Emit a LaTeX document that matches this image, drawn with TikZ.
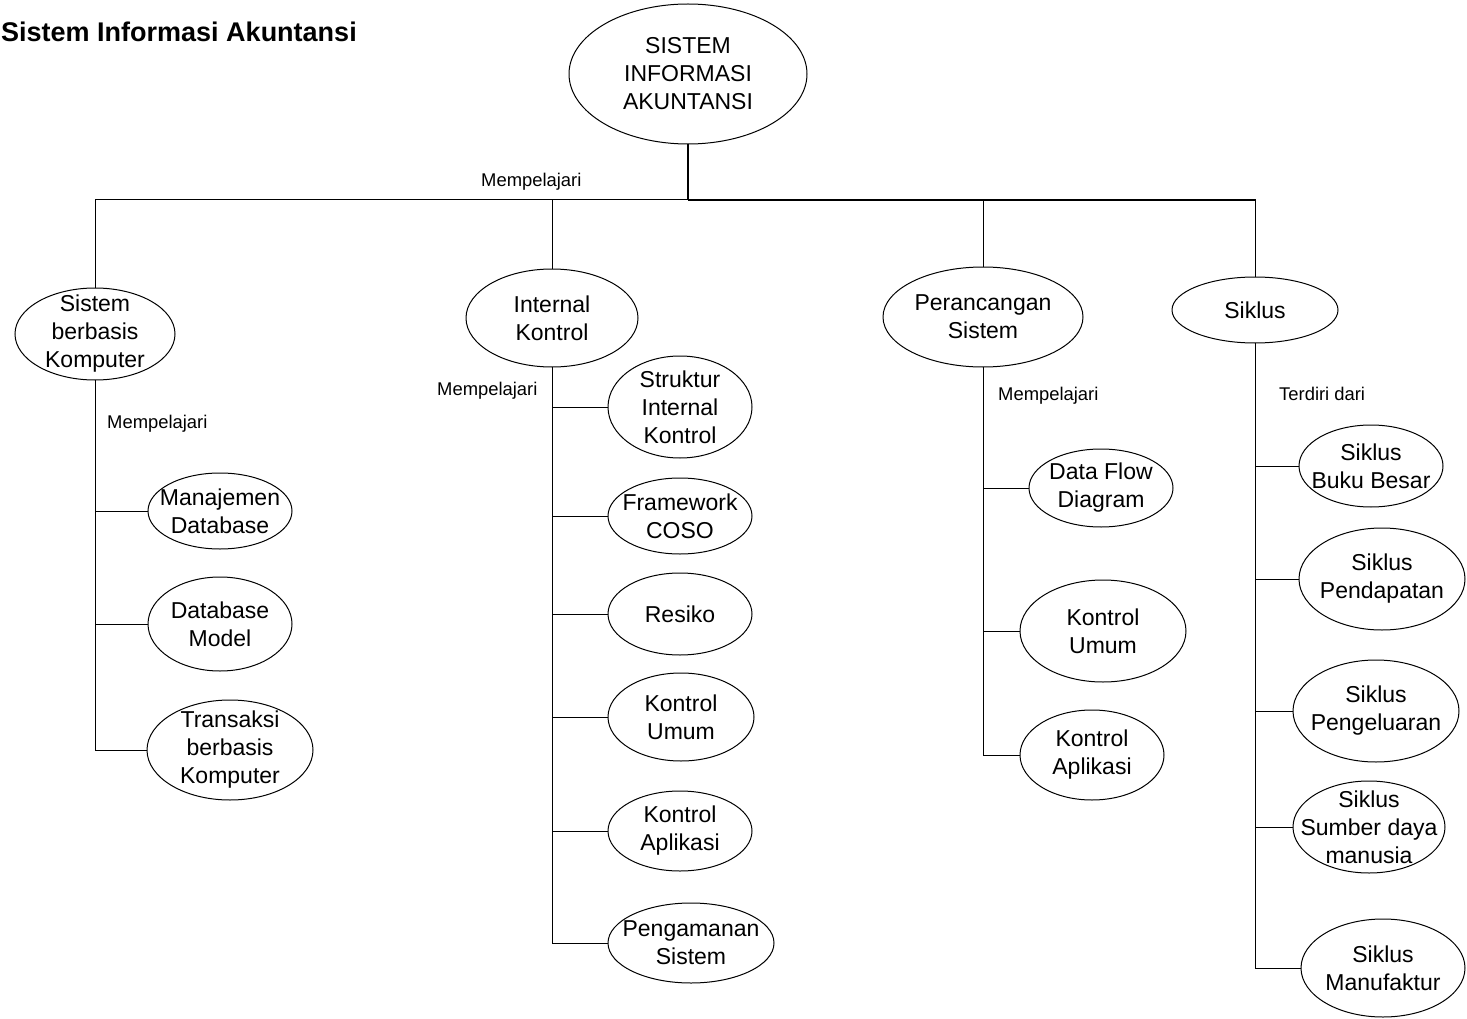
\documentclass[tikz,border=0pt]{standalone}
\usepackage{fontspec}
\setmainfont{Liberation Sans}
\usetikzlibrary{shapes.geometric}
\newcommand{\myell}[6]{%
  \node[ellbox, minimum width={2*#4}, minimum height={2*#5}] (#1) at (#2,#3) {};
  \node[elltext] (#1-t) at (#1.center) {#6};}
\begin{document}
\begin{tikzpicture}[x=1pt,y=-1pt,
  ellbox/.style={draw, ellipse, inner sep=0pt, outer sep=0pt, line width=1pt},
  elltext/.style={align=center, font=\fontsize{23}{28}\selectfont, inner sep=0pt},
  lbl/.style={font=\fontsize{18.4}{22}\selectfont, inner sep=0pt},
  conn/.style={line width=1pt},
  mainconn/.style={line width=2pt}]
\path[use as bounding box, fill=white] (0,0) rectangle (1467,1019);

% title
\node[font=\bfseries\fontsize{27}{32}\selectfont, anchor=base west, inner sep=0pt] (title) at (1,42) {Sistem Informasi Akuntansi};

% root
\myell{sia}{688}{74}{119}{70}{SISTEM\\INFORMASI\\AKUNTANSI}

% level 1
\myell{sbk}{95}{334}{80}{46}{Sistem\\berbasis\\Komputer}
\myell{ik}{552}{318}{86}{49}{Internal\\Kontrol}
\myell{ps}{983}{317}{100}{50}{Perancangan\\Sistem}
\myell{sik}{1255}{310}{83}{33}{Siklus}

% children of sbk
\myell{md}{220}{511}{72}{38}{Manajemen\\Database}
\myell{dm}{220}{624}{72}{47}{Database\\Model}
\myell{tbk}{230}{750}{83}{50}{Transaksi\\berbasis\\Komputer}

% children of ik
\myell{sikt}{680}{407}{72}{51}{Struktur\\Internal\\Kontrol}
\myell{fc}{680}{516}{72}{38}{Framework\\COSO}
\myell{res}{680}{614}{72}{41}{Resiko}
\myell{kua}{681}{717}{73}{44}{Kontrol\\Umum}
\myell{kaa}{680}{831}{72}{40}{Kontrol\\Aplikasi}
\myell{pgs}{691}{943}{83}{40}{Pengamanan\\Sistem}

% children of ps
\myell{dfd}{1101}{488}{72}{39}{Data Flow\\Diagram}
\myell{kub}{1103}{631}{83}{51}{Kontrol\\Umum}
\myell{kab}{1092}{755}{72}{45}{Kontrol\\Aplikasi}

% children of sik
\myell{bb}{1371}{466}{72}{41}{Siklus\\Buku Besar}
\myell{pd}{1382}{579}{83}{51}{Siklus\\Pendapatan}
\myell{pl}{1376}{711}{83}{51}{Siklus\\Pengeluaran}
\myell{sdm}{1369}{827}{76}{46}{Siklus\\Sumber daya\\manusia}
\myell{mf}{1383}{968}{82}{49}{Siklus\\Manufaktur}

% labels
\node[lbl, anchor=base west] (l0) at (481,187) {Mempelajari};
\node[lbl, anchor=base west] (l1) at (107,428) {Mempelajari};
\node[lbl, anchor=base west] (l2) at (437,395) {Mempelajari};
\node[lbl, anchor=base west] (l3) at (998,400) {Mempelajari};
\node[lbl, anchor=base west] (l4) at (1279,400) {Terdiri dari};

% top connectors
\coordinate (hub) at (688,200);
\draw[mainconn] (sia.south) -- (hub);
\draw[mainconn] (hub) -- (sik.north |- hub);
\draw[conn] (hub) -| (sbk.north);
\draw[conn] (hub) -| (ik.north);
\draw[conn] (hub) -| (ps.north);
\draw[conn] (hub) -| (sik.north);

% subtrees
\foreach \c in {md,dm,tbk} \draw[conn] (sbk.south) |- (\c.west);
\foreach \c in {sikt,fc,res,kua,kaa,pgs} \draw[conn] (ik.south) |- (\c.west);
\foreach \c in {dfd,kub,kab} \draw[conn] (ps.south) |- (\c.west);
\foreach \c in {bb,pd,pl,sdm,mf} \draw[conn] (sik.south) |- (\c.west);
\end{tikzpicture}
\end{document}
